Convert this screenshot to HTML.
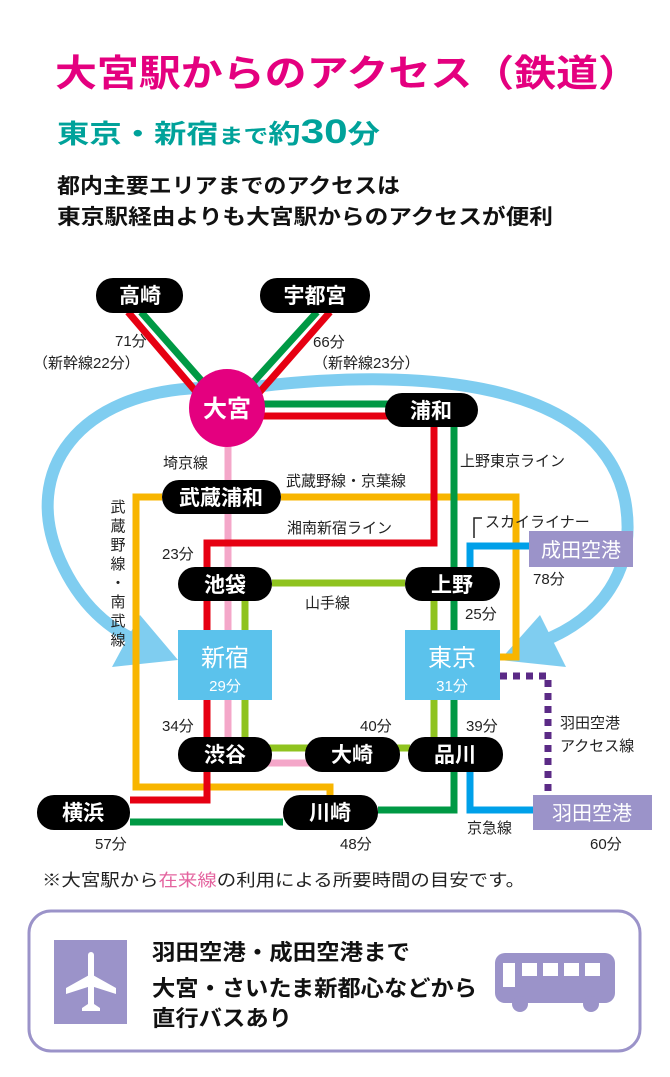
<!DOCTYPE html>
<html><head><meta charset="utf-8"><style>
html,body{margin:0;padding:0;background:#fff}
svg{display:block}
text{font-family:"Liberation Sans","Noto Sans CJK JP",sans-serif}
</style></head><body>
<svg width="670" height="1077" viewBox="0 0 670 1077" xmlns="http://www.w3.org/2000/svg">
<text x="55" y="86" font-size="37" font-weight="bold" fill="#e4007f" textLength="585" lengthAdjust="spacingAndGlyphs">大宮駅からのアクセス（鉄道）</text>
<text x="57" y="143" font-size="26" font-weight="bold" fill="#00a29a" textLength="323" lengthAdjust="spacingAndGlyphs">東京・新宿<tspan font-size="20">まで</tspan>約<tspan font-size="34">30</tspan>分</text>
<text x="57" y="193" font-size="21" font-weight="bold" fill="#111" textLength="343" lengthAdjust="spacingAndGlyphs">都内主要エリアまでのアクセスは</text>
<text x="57" y="224" font-size="21" font-weight="bold" fill="#111" textLength="496" lengthAdjust="spacingAndGlyphs">東京駅経由よりも大宮駅からのアクセスが便利</text>

<!-- blue arrows -->
<g fill="none" stroke="#7fcdf0" stroke-linecap="round">
<path d="M200 388 C80 392 20 470 60 560 C80 605 110 630 140 642" stroke-width="12"/>
<path d="M262 386 C420 368 600 380 625 500 C638 570 600 620 540 642" stroke-width="12"/>
</g>
<polygon points="178,660 112,667 140,615" fill="#7fcdf0"/>
<polygon points="500,660 566,667 540,615" fill="#7fcdf0"/>

<!-- lines -->
<g fill="none" stroke-linejoin="miter">
<path d="M128 312 L198 394" stroke="#e60012" stroke-width="7"/>
<path d="M141 312 L208 388" stroke="#009944" stroke-width="7"/>
<path d="M330 312 L258 394" stroke="#e60012" stroke-width="7"/>
<path d="M317 312 L248 388" stroke="#009944" stroke-width="7"/>
<path d="M260 404 L390 404" stroke="#009944" stroke-width="7"/>
<path d="M260 416 L390 416" stroke="#e60012" stroke-width="7"/>
<path d="M281 497 L516 497 L516 657 L500 657" stroke="#f8b500" stroke-width="7"/>
<path d="M162 497 L136 497 L136 787 L330 787 L330 798" stroke="#f8b500" stroke-width="7"/>
<path d="M228 447 L228 763 L310 763" stroke="#f4a7c9" stroke-width="7"/>
<path d="M434 427 L434 543 L207 543 L207 800 L130 800" stroke="#e60012" stroke-width="7"/>
<path d="M454 427 L454 810 L378 810" stroke="#009944" stroke-width="7"/>
<path d="M130 822 L283 822" stroke="#009944" stroke-width="7"/>
<path d="M272 583 L405 583" stroke="#8fc31f" stroke-width="7"/>
<path d="M245 600 L245 748 L410 748" stroke="#8fc31f" stroke-width="7"/>
<path d="M434 600 L434 748" stroke="#8fc31f" stroke-width="7"/>
<path d="M530 546 L470 546 L470 567" stroke="#00a0e9" stroke-width="7"/>
<path d="M470 772 L470 810 L533 810" stroke="#00a0e9" stroke-width="7"/>
<path d="M500 676 L548 676 L548 795" stroke="#5b2a86" stroke-width="7" stroke-dasharray="7,6"/>
<path d="M474 538 L474 518 L482 518" stroke="#222" stroke-width="1.5"/>
</g>

<g fill="#000">
<rect x="96" y="278" width="87" height="35" rx="17"/>
<rect x="260" y="278" width="110" height="35" rx="17"/>
<rect x="385" y="393" width="93" height="34" rx="17"/>
<rect x="162" y="480" width="119" height="34" rx="17"/>
<rect x="178" y="567" width="94" height="34" rx="17"/>
<rect x="405" y="567" width="95" height="34" rx="17"/>
<rect x="178" y="737" width="94" height="35" rx="17"/>
<rect x="305" y="737" width="95" height="35" rx="17"/>
<rect x="408" y="737" width="95" height="35" rx="17"/>
<rect x="37" y="795" width="93" height="35" rx="17"/>
<rect x="283" y="795" width="95" height="35" rx="17"/>
</g>
<ellipse cx="227" cy="408" rx="38" ry="39" fill="#e4007f"/>
<rect x="178" y="630" width="94" height="70" fill="#5bc2ec"/>
<rect x="405" y="630" width="95" height="70" fill="#5bc2ec"/>
<rect x="529" y="531" width="104" height="36" fill="#9b93c9"/>
<rect x="533" y="795" width="119" height="35" fill="#9b93c9"/>

<g fill="#fff" font-size="21" text-anchor="middle" font-weight="bold">
<text x="140" y="303">高崎</text>
<text x="315" y="303">宇都宮</text>
<text x="431" y="418">浦和</text>
<text x="221" y="505">武蔵浦和</text>
<text x="225" y="592">池袋</text>
<text x="452" y="592">上野</text>
<text x="225" y="762">渋谷</text>
<text x="352" y="762">大崎</text>
<text x="455" y="762">品川</text>
<text x="83" y="820">横浜</text>
<text x="330" y="820">川崎</text>
<text x="227" y="417" font-size="24">大宮</text>
<text x="225" y="666" font-size="24" font-weight="normal">新宿</text>
<text x="452" y="666" font-size="24" font-weight="normal">東京</text>
<text x="225" y="691" font-size="15" font-weight="normal">29分</text>
<text x="452" y="691" font-size="15" font-weight="normal">31分</text>
<text x="581" y="557" font-size="20" font-weight="normal">成田空港</text>
<text x="592" y="820" font-size="20" font-weight="normal">羽田空港</text>
</g>

<g fill="#222" font-size="15">
<text x="115" y="346">71分</text>
<text x="33" y="368">（新幹線22分）</text>
<text x="313" y="347">66分</text>
<text x="313" y="368">（新幹線23分）</text>
<text x="163" y="468">埼京線</text>
<text x="460" y="466">上野東京ライン</text>
<text x="286" y="486">武蔵野線・京葉線</text>
<text x="287" y="533">湘南新宿ライン</text>
<text x="485" y="527">スカイライナー</text>
<text x="162" y="559">23分</text>
<text x="533" y="584">78分</text>
<text x="305" y="608">山手線</text>
<text x="465" y="619">25分</text>
<text x="162" y="731">34分</text>
<text x="360" y="731">40分</text>
<text x="466" y="731">39分</text>
<text x="560" y="728">羽田空港</text>
<text x="560" y="751">アクセス線</text>
<text x="95" y="849">57分</text>
<text x="340" y="849">48分</text>
<text x="467" y="833">京急線</text>
<text x="590" y="849">60分</text>
<g text-anchor="middle">
<text x="118" y="512">武</text><text x="118" y="531">蔵</text><text x="118" y="550">野</text><text x="118" y="569">線</text><text x="118" y="588">・</text><text x="118" y="607">南</text><text x="118" y="626">武</text><text x="118" y="645">線</text>
</g>
</g>

<text x="42" y="886" font-size="17" fill="#222" textLength="483" lengthAdjust="spacingAndGlyphs">※大宮駅から<tspan fill="#e4649f">在来線</tspan>の利用による所要時間の目安です。</text>

<rect x="29" y="911" width="611" height="140" rx="22" fill="#fff" stroke="#9b93c9" stroke-width="3"/>
<rect x="54" y="940" width="73" height="84" fill="#9b93c9"/>
<g fill="#fff">
<rect x="88" y="952" width="6" height="56" rx="3"/>
<polygon points="66,988 91,974 116,988 116,994 91,986 66,994"/>
<polygon points="82,1008 91,1002 100,1008 100,1011 82,1011"/>
</g>
<g fill="#9b93c9">
<rect x="495" y="953" width="120" height="50" rx="10"/>
<circle cx="520" cy="1004" r="8"/><circle cx="591" cy="1004" r="8"/>
</g>
<g fill="#fff">
<rect x="503" y="963" width="12" height="24"/>
<rect x="522" y="963" width="15" height="13"/>
<rect x="543" y="963" width="15" height="13"/>
<rect x="564" y="963" width="15" height="13"/>
<rect x="585" y="963" width="15" height="13"/>
</g>
<g font-size="22" font-weight="bold" fill="#111">
<text x="152" y="960" textLength="258" lengthAdjust="spacingAndGlyphs">羽田空港・成田空港まで</text>
<text x="152" y="996" textLength="325" lengthAdjust="spacingAndGlyphs">大宮・さいたま新都心などから</text>
<text x="152" y="1026" textLength="140" lengthAdjust="spacingAndGlyphs">直行バスあり</text>
</g>
</svg>
</body></html>
